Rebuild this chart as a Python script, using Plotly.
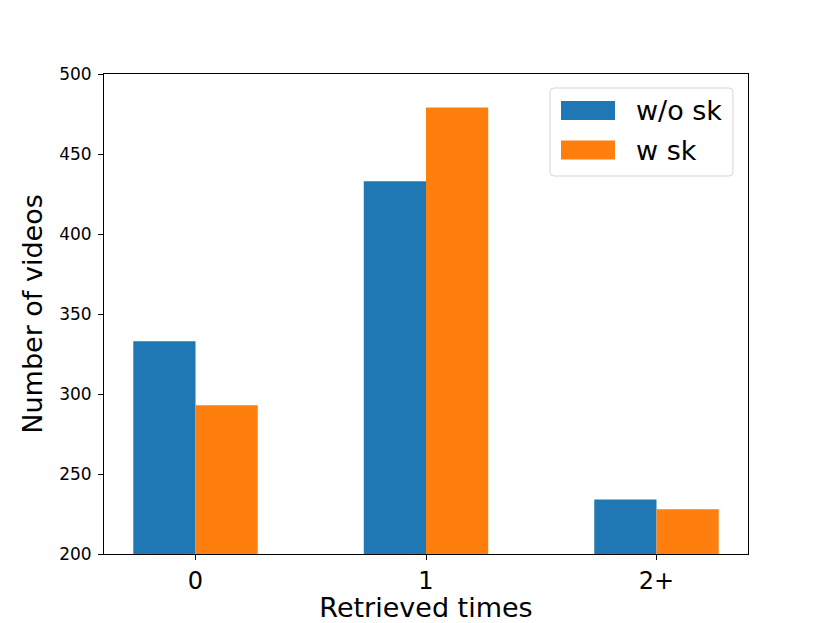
import plotly.graph_objects as go

# data
categories = ["0", "1", "2+"]
positions = [0, 1, 2]
series_names = ["w/o sk", "w sk"]
without_sk = [333, 433, 234]
with_sk = [293, 479, 228]
colors = ["#1f77b4", "#ff7f0e"]

bar_width = 0.27
W, H = 830, 623
L, R, T, B = 104, 748, 74, 554  # plot area in pixels


def px_x(p):
    return (p - L) / (R - L)


def px_y(p):
    return (B - p) / (B - T)


fig = go.Figure()
for i, (name, vals) in enumerate(zip(series_names, [without_sk, with_sk])):
    offset = (i - 0.5) * bar_width
    fig.add_trace(go.Bar(
        x=[p + offset for p in positions],
        y=[v - 200 for v in vals],
        base=200,
        width=bar_width,
        name=name,
        marker=dict(color=colors[i], line=dict(width=0)),
        showlegend=False,
    ))

font = "DejaVu Sans, Arial, sans-serif"
fig.update_layout(
    width=W, height=H,
    margin=dict(l=L, r=W - R, t=T, b=H - B),
    plot_bgcolor="white", paper_bgcolor="white",
    font=dict(family=font, color="black"),
    barmode="overlay",
    xaxis=dict(
        range=[-0.397, 2.397],
        tickmode="array", tickvals=positions, ticktext=categories,
        tickfont=dict(size=24),
        ticks="outside", ticklen=5, tickwidth=1, tickcolor="black",
        showline=True, linecolor="black", linewidth=1, mirror=True,
        showgrid=False, zeroline=False, automargin=False,
        title=dict(text="Retrieved times", font=dict(size=27), standoff=5),
    ),
    yaxis=dict(
        range=[200, 500],
        tickvals=[200, 250, 300, 350, 400, 450, 500],
        tickfont=dict(size=17),
        ticks="outside", ticklen=5, tickwidth=1, tickcolor="black",
        ticklabelstandoff=3,
        showline=True, linecolor="black", linewidth=1, mirror=True,
        showgrid=False, zeroline=False, automargin=False,
        title=dict(text="Number of videos", font=dict(size=27), standoff=8),
    ),
)

# matplotlib-style legend box
bx0, bx1, by0, by1 = 550, 733, 88, 176
r = 4
rx, ry = r / (R - L), r / (B - T)
x0, x1, y0, y1 = px_x(bx0), px_x(bx1), px_y(by1), px_y(by0)
path = (f"M {x0+rx},{y0} L {x1-rx},{y0} Q {x1},{y0} {x1},{y0+ry} "
        f"L {x1},{y1-ry} Q {x1},{y1} {x1-rx},{y1} L {x0+rx},{y1} "
        f"Q {x0},{y1} {x0},{y1-ry} L {x0},{y0+ry} Q {x0},{y0} {x0+rx},{y0} Z")
fig.add_shape(type="path", path=path, xref="paper", yref="paper",
              fillcolor="rgba(255,255,255,0.8)", line=dict(color="#d5d5d5", width=1))

for i, name in enumerate(series_names):
    top = 101 + i * 39.5
    fig.add_shape(type="rect", xref="paper", yref="paper",
                  x0=px_x(561), x1=px_x(615), y0=px_y(top + 19), y1=px_y(top),
                  fillcolor=colors[i], line=dict(width=0))
    fig.add_annotation(xref="paper", yref="paper", x=px_x(634), y=px_y(top + 9.5),
                       text=name, showarrow=False, xanchor="left", yanchor="middle",
                       font=dict(size=27, family=font, color="black"))

fig.write_html("out.html", config={"displayModeBar": False},
               post_script="document.body.style.margin='0';")
